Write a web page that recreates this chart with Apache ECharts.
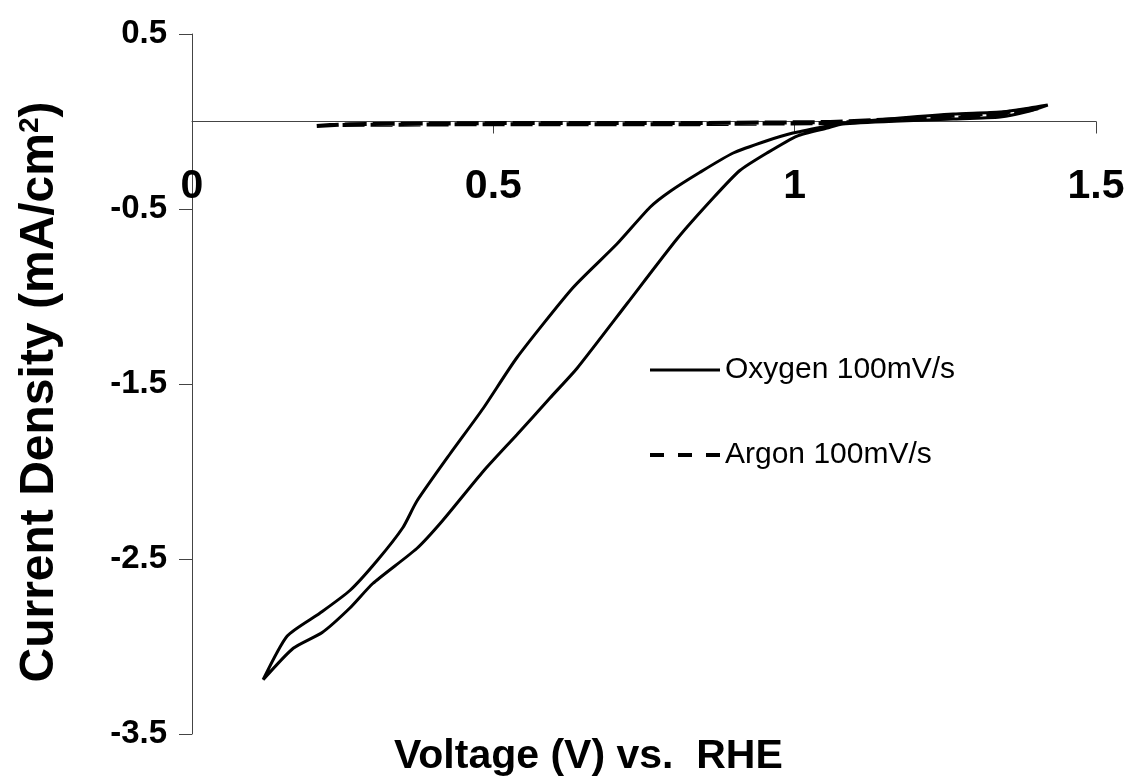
<!DOCTYPE html>
<html>
<head>
	<meta charset="utf-8">
	<title>Current Density vs RHE</title>
	<script src="https://cdn.jsdelivr.net/npm/echarts@6/dist/echarts.min.js"></script>
</head>
<body style="margin:0">
	<div id="main" style="width:1128px;height:783px"></div>
	<script type="text/javascript">
// oxygen loop: left branch up from the tip, then back along the right branch
var oxygenV = [0.118, 0.158, 0.212, 0.262, 0.307, 0.350, 0.373, 0.428, 0.483, 0.539, 0.632, 0.705, 0.760, 0.793, 0.843, 0.898, 0.954, 0.997, 1.054, 1.080, 1.175, 1.263, 1.341, 1.390, 1.420,
               1.390, 1.341, 1.263, 1.175, 1.080, 1.054, 1.004, 0.954, 0.909, 0.864, 0.805, 0.722, 0.639, 0.594, 0.539, 0.483, 0.416, 0.373, 0.300, 0.262, 0.216, 0.168, 0.118];
var oxygenI = [-3.19, -2.94, -2.81, -2.68, -2.51, -2.32, -2.17, -1.90, -1.64, -1.35, -0.95, -0.70, -0.49, -0.40, -0.29, -0.18, -0.11, -0.066, -0.026, -0.009, 0.020, 0.043, 0.054, 0.077, 0.094,
               0.060, 0.026, 0.014, 0.003, -0.014, -0.037, -0.083, -0.18, -0.28, -0.44, -0.67, -1.04, -1.41, -1.58, -1.79, -2.00, -2.28, -2.44, -2.64, -2.78, -2.92, -3.01, -3.19];

var argonV = [0.207, 0.262, 0.510, 0.843, 1.059, 1.175, 1.258, 1.341, 1.407, 1.407, 1.341, 1.258, 1.175, 1.059, 0.843, 0.510, 0.229, 0.207];
var argonI = [-0.026, -0.015, -0.009, -0.009, -0.003, 0.014, 0.031, 0.049, 0.077, 0.066, 0.037, 0.020, 0.009, -0.009, -0.015, -0.015, -0.020, -0.026];

var xTicks = { min: 0, max: 1.5, step: 0.5 };
var yTicks = { min: -3.5, max: 0.5, step: 1 };

function pairs(xs, ys) {
    var out = [];
    for (var i = 0; i < xs.length; i++) out.push([xs[i], ys[i]]);
    return out;
}

var myChart = echarts.init(document.getElementById('main'));

var option = {
    animation: false,
    backgroundColor: '#fff',
    textStyle: { fontFamily: 'Liberation Sans, Arial, sans-serif' },
    // x axis title sits far below the zero line, so it is drawn as a title
    title: {
        text: 'Voltage (V) vs.  RHE',
        left: 394,
        top: 736,
        padding: 0,
        textStyle: { fontSize: 41, fontWeight: 'bold', color: '#000', fontFamily: 'Liberation Sans, Arial' }
    },
    grid: { left: 192, right: 32, top: 34, bottom: 49, outerBoundsMode: 'none' },
    legend: {
        orient: 'vertical',
        left: 648,
        top: 355,
        padding: 0,
        itemWidth: 70,
        itemHeight: 14,
        itemGap: 55,
        itemStyle: { color: 'rgba(0,0,0,0)', borderWidth: 0, opacity: 0 },
        textStyle: { fontSize: 30, lineHeight: 30, color: '#000', fontFamily: 'Liberation Sans, Arial' },
        data: [
            { name: 'Oxygen 100mV/s', lineStyle: { width: 3 } },
            { name: 'Argon 100mV/s', lineStyle: { type: [14, 14], width: 4 } }
        ]
    },
    xAxis: {
        type: 'value',
        min: xTicks.min,
        max: xTicks.max,
        interval: xTicks.step,
        splitLine: { show: false },
        axisLine: { onZero: true, lineStyle: { color: '#444', width: 1 } },
        axisTick: { length: 12, lineStyle: { color: '#444' } },
        // labels are anchored to the grid bottom, pull them up under the zero line
        axisLabel: { margin: -568, fontSize: 41, fontWeight: 'bold', color: '#000' }
    },
    yAxis: {
        type: 'value',
        min: yTicks.min,
        max: yTicks.max,
        interval: yTicks.step,
        name: '{a|Current Density (mA/cm}{s|2}{a|)}',
        nameLocation: 'middle',
        nameGap: 128,
        nameTextStyle: {
            padding: [0, 16, 0, 0],
            rich: {
                a: { fontSize: 48, fontWeight: 'bold', color: '#000' },
                s: { fontSize: 28, fontWeight: 'bold', color: '#000', verticalAlign: 'top', padding: [0, 0, 16, 0] }
            }
        },
        splitLine: { show: false },
        axisLine: { lineStyle: { color: '#444', width: 1 } },
        axisTick: { length: 13, lineStyle: { color: '#444' } },
        axisLabel: { margin: 25, fontSize: 33, fontWeight: 'bold', color: '#000' }
    },
    series: [{
        name: 'Oxygen 100mV/s',
        type: 'line',
        symbol: 'none',
        smooth: 0.2,
        lineStyle: { color: '#000', width: 3 },
        itemStyle: { color: '#000' },
        data: pairs(oxygenV, oxygenI)
    }, {
        name: 'Argon 100mV/s',
        type: 'line',
        symbol: 'none',
        lineStyle: { color: '#000', width: 4, type: [22, 6] },
        itemStyle: { color: '#000' },
        data: pairs(argonV, argonI)
    }]
};

myChart.setOption(option);
	</script>
</body>
</html>
